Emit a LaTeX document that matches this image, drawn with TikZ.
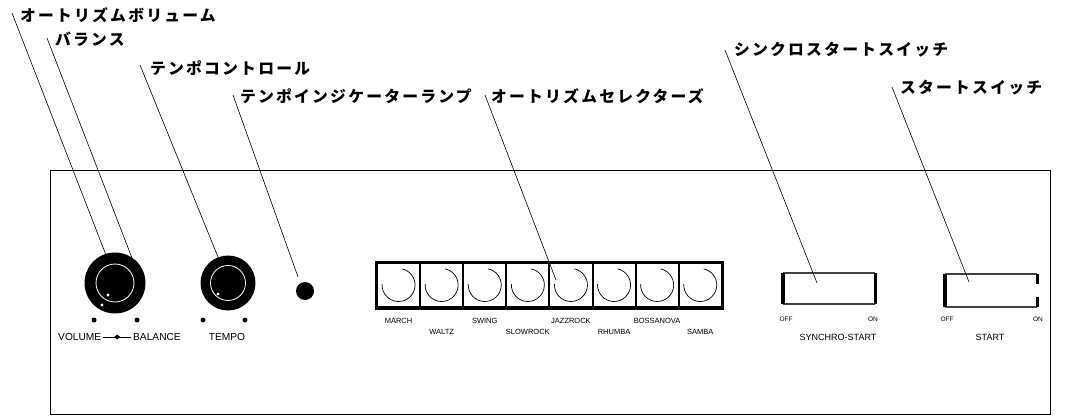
\documentclass[tikz,border=0pt]{standalone}
\usepackage{fontspec}
\usetikzlibrary{calc}
\setsansfont{Liberation Sans}
\newfontfamily\jp{Noto Sans CJK JP}[LetterSpace=14]
\begin{document}
\begin{tikzpicture}[x=1pt,y=-1pt,
  jlabel/.style={anchor=west,inner sep=0pt,font=\jp\bfseries\fontsize{15.8}{15.8}\selectfont},
  lead/.style={line width=0.6pt},
  small/.style={inner sep=0pt,font=\sffamily\fontsize{7.5}{7.5}\selectfont},
  tiny/.style={inner sep=0pt,font=\sffamily\fontsize{6.5}{6.5}\selectfont},
  capt/.style={inner sep=0pt,font=\sffamily\fontsize{9}{9}\selectfont},
  bigcapt/.style={inner sep=0pt,font=\sffamily\fontsize{10.2}{10.2}\selectfont},
  cellbox/.style={draw,line width=2pt,minimum width=43.1pt,minimum height=44pt,inner sep=0pt},
  dot/.style={circle,fill=black,inner sep=0pt,minimum size=5pt}]
\useasboundingbox (0,0) rectangle (1065,417);
% panel
\node[draw,line width=0.8pt,minimum width=1000pt,minimum height=244pt,inner sep=0pt,anchor=north west] (panel) at (50,170) {};
% knobs
\node[circle,fill=black,minimum size=61pt,inner sep=0pt] (knob1) at (115,283) {};
\draw[white,line width=0.8pt] (knob1.center) circle[radius=19];
\fill[white] (108,295) circle[radius=1.6] (102,305) circle[radius=1.6];
\node[dot] (d1) at (94,320) {};
\node[dot] (d2) at (137,320) {};
\node[circle,fill=black,minimum size=55pt,inner sep=0pt] (knob2) at (228,283) {};
\draw[white,line width=0.8pt] (knob2.center) circle[radius=17.5];
\fill[white] (218,294) circle[radius=1.6];
\node[dot] (d3) at (203,320) {};
\node[dot] (d4) at (245,320) {};
\node[circle,fill=black,minimum size=18pt,inner sep=0pt] (lamp) at (305,291) {};
% selector buttons
\foreach \i in {1,...,8}{
  \node[cellbox] (s\i) at ({377+(\i-0.5)*43.1},285) {};
  \draw[line width=0.7pt] (s\i.center) ++(183:16.5) arc[start angle=183,end angle=-78,radius=16.5];
}
\draw[line width=3pt] (s1.north west) rectangle (s8.south east);
\node[small] (l1) at (s1.center |- 0,321) {MARCH};
\node[small] (l2) at (s2.center |- 0,332) {WALTZ};
\node[small] (l3) at (s3.center |- 0,321) {SWING};
\node[small] (l4) at (s4.center |- 0,332) {SLOWROCK};
\node[small] (l5) at (s5.center |- 0,321) {JAZZROCK};
\node[small] (l6) at (s6.center |- 0,332) {RHUMBA};
\node[small] (l7) at (s7.center |- 0,321) {BOSSANOVA};
\node[small] (l8) at (s8.center |- 0,332) {SAMBA};
% synchro switch
\node[minimum width=92pt,minimum height=31pt,inner sep=0pt] (sw1) at (829,288.5) {};
\draw[line width=2.5pt,black!75] (sw1.north west) -- (sw1.north east) (sw1.south west) -- (sw1.south east);
\draw[line width=4pt] (sw1.north west) -- (sw1.south west);
\draw[line width=3pt] (sw1.north east) -- (sw1.south east);
\node[tiny] (off1) at (786,319) {OFF};
\node[tiny] (on1) at (873,319) {ON};
\node[capt] (syn) at (838,337) {SYNCHRO-START};
% start switch
\node[minimum width=92pt,minimum height=33pt,inner sep=0pt] (sw2) at (991,290.5) {};
\draw[line width=2.5pt,black!75] (sw2.north west) -- (sw2.north east) (sw2.south west) -- (sw2.south east);
\draw[line width=4pt] (sw2.north west) -- (sw2.south west);
\draw[line width=3pt] (sw2.north east) -- ++(0,10) (sw2.south east) -- ++(0,-10);
\node[tiny] (off2) at (947,319) {OFF};
\node[tiny] (on2) at (1038,319) {ON};
\node[capt] (st) at (990,337) {START};
% bottom captions
\node[bigcapt,anchor=west] (vol) at (58,337) {VOLUME};
\node[bigcapt,anchor=east] (bal) at (181,337) {BALANCE};
\draw[line width=0.6pt] ([xshift=2pt]vol.east) -- ([xshift=-2pt]bal.west);
\fill ($(vol.east)!0.5!(bal.west)$) ++(-3,0) -- ++(3,-2.5) -- ++(3,2.5) -- ++(-3,2.5) -- cycle;
\node[bigcapt] (tmp) at (227,337) {TEMPO};
% labels
\node[jlabel] (t1) at (20,15) {オートリズムボリューム};
\node[jlabel] (t2) at (55,39) {バランス};
\node[jlabel] (t3) at (150,68) {テンポコントロール};
\node[jlabel] (t4) at (240,96) {テンポインジケーターランプ};
\node[jlabel] (t5) at (491,96) {オートリズムセレクターズ};
\node[jlabel] (t6) at (734,50) {シンクロスタートスイッチ};
\node[jlabel] (t7) at (900,88) {スタートスイッチ};
% leader lines
\coordinate (c4) at (298,277);
\coordinate (c5) at (556,280);
\coordinate (c6) at (817,283);
\coordinate (c7) at (969,282);
\draw[lead] ([shift={(-8,-2)}]t1.west) -- (knob1.108);
\draw[lead] ([shift={(-8,-1)}]t2.west) -- (knob1.57);
\draw[lead] ([shift={(-10,-3)}]t3.west) -- (knob2.111);
\draw[lead] ([shift={(-7,-1)}]t4.west) -- (c4);
\draw[lead] ([shift={(-6,-1)}]t5.west) -- (c5);
\draw[lead] ([shift={(-9,0)}]t6.west) -- (c6);
\draw[lead] ([shift={(-8,-1)}]t7.west) -- (c7);
\end{tikzpicture}
\end{document}
